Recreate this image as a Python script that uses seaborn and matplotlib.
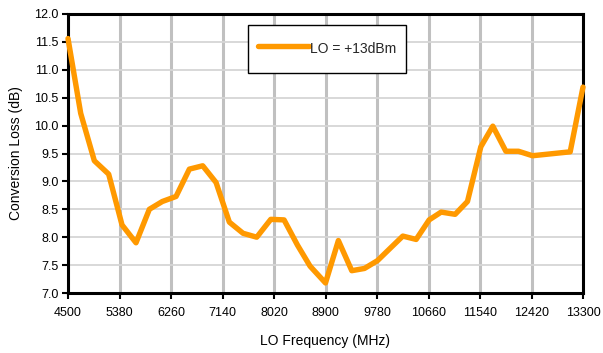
import matplotlib
matplotlib.use("Agg")
import matplotlib.pyplot as plt
import seaborn as sns
import pandas as pd
import numpy as np
from matplotlib.ticker import FormatStrFormatter
from matplotlib.legend_handler import HandlerLine2D
from matplotlib.lines import Line2D

freq_mhz = [4500, 4717, 4950, 5195, 5423, 5662, 5890, 6112, 6346, 6574, 6802, 7030,
            7257, 7491, 7725, 7965, 8192, 8420, 8637, 8900, 9120, 9349, 9566, 9788,
            10004, 10221, 10449, 10671, 10876, 11115, 11326, 11554, 11759, 11982,
            12198, 12437, 13081, 13300]
conv_loss_db = [11.56, 10.22, 9.37, 9.13, 8.22, 7.90, 8.50, 8.64, 8.73, 9.22, 9.28, 8.98,
                8.27, 8.07, 8.00, 8.32, 8.31, 7.86, 7.48, 7.18, 7.94, 7.40, 7.44, 7.58,
                7.80, 8.02, 7.96, 8.31, 8.45, 8.41, 8.64, 9.62, 9.99, 9.54,
                9.54, 9.46, 9.53, 10.69]
series_label = "LO = +13dBm"
x_ticks = [4500, 5380, 6260, 7140, 8020, 8900, 9780, 10660, 11540, 12420, 13300]
y_ticks = [7.0, 7.5, 8.0, 8.5, 9.0, 9.5, 10.0, 10.5, 11.0, 11.5, 12.0]

df = pd.DataFrame({"freq": freq_mhz, "loss": conv_loss_db, "series": series_label})

sns.set_theme(style="white")
plt.rcParams["font.family"] = ["Liberation Sans", "DejaVu Sans"]

fig = plt.figure(figsize=(6.03, 3.53), dpi=100)
ax = fig.add_axes([68/603, 1-293/353, (583-68)/603, (293-14)/353])

ax.set_xlim(4500, 13300)
ax.set_ylim(7.0, 12.0)
ax.set_xticks(x_ticks)
ax.set_yticks(y_ticks)
ax.yaxis.set_major_formatter(FormatStrFormatter("%.1f"))

ax.grid(axis="y", color="#d6d6d6", linewidth=1.3, zorder=0)
ax.grid(axis="x", color="#c0c0c0", linewidth=2.2, zorder=0)
ax.set_axisbelow(True)

sns.lineplot(data=df, x="freq", y="loss", hue="series", palette=["#FF9900"],
             linewidth=3.9, ax=ax, zorder=3, clip_on=False)

for s in ax.spines.values():
    s.set_color("black")
    s.set_linewidth(2.2)

ax.tick_params(axis="both", which="major", direction="out", length=4, width=1.5,
               color="black", labelsize=9, labelcolor="black", pad=3,
               left=True, bottom=True)
ax.tick_params(axis="x", pad=6)

ax.set_xlabel("LO Frequency (MHz)", fontsize=10, labelpad=11, color="black")
ax.set_ylabel("Conversion Loss (dB)", fontsize=10, labelpad=8, color="black")


class ShiftedLineHandler(HandlerLine2D):
    def create_artists(self, legend, orig_handle, xdescent, ydescent,
                       width, height, fontsize, trans):
        arts = super().create_artists(legend, orig_handle, xdescent, ydescent,
                                      width, height, fontsize, trans)
        for a in arts:
            y = a.get_ydata()
            a.set_ydata(np.asarray(y) - 1.8)
        return arts


leg = ax.legend(loc="upper left", bbox_to_anchor=((248-68)/515, 1-(25-14)/279),
                frameon=True, fancybox=False, fontsize=10, handlelength=3.7,
                handleheight=2.8, handletextpad=0.05, borderpad=0.7,
                borderaxespad=0, handler_map={Line2D: ShiftedLineHandler()})
leg.get_frame().set_edgecolor("black")
leg.get_frame().set_linewidth(1.0)
leg.get_frame().set_facecolor("white")
leg.get_frame().set_alpha(1)

fig.savefig("out.png", dpi=100, facecolor="white")
